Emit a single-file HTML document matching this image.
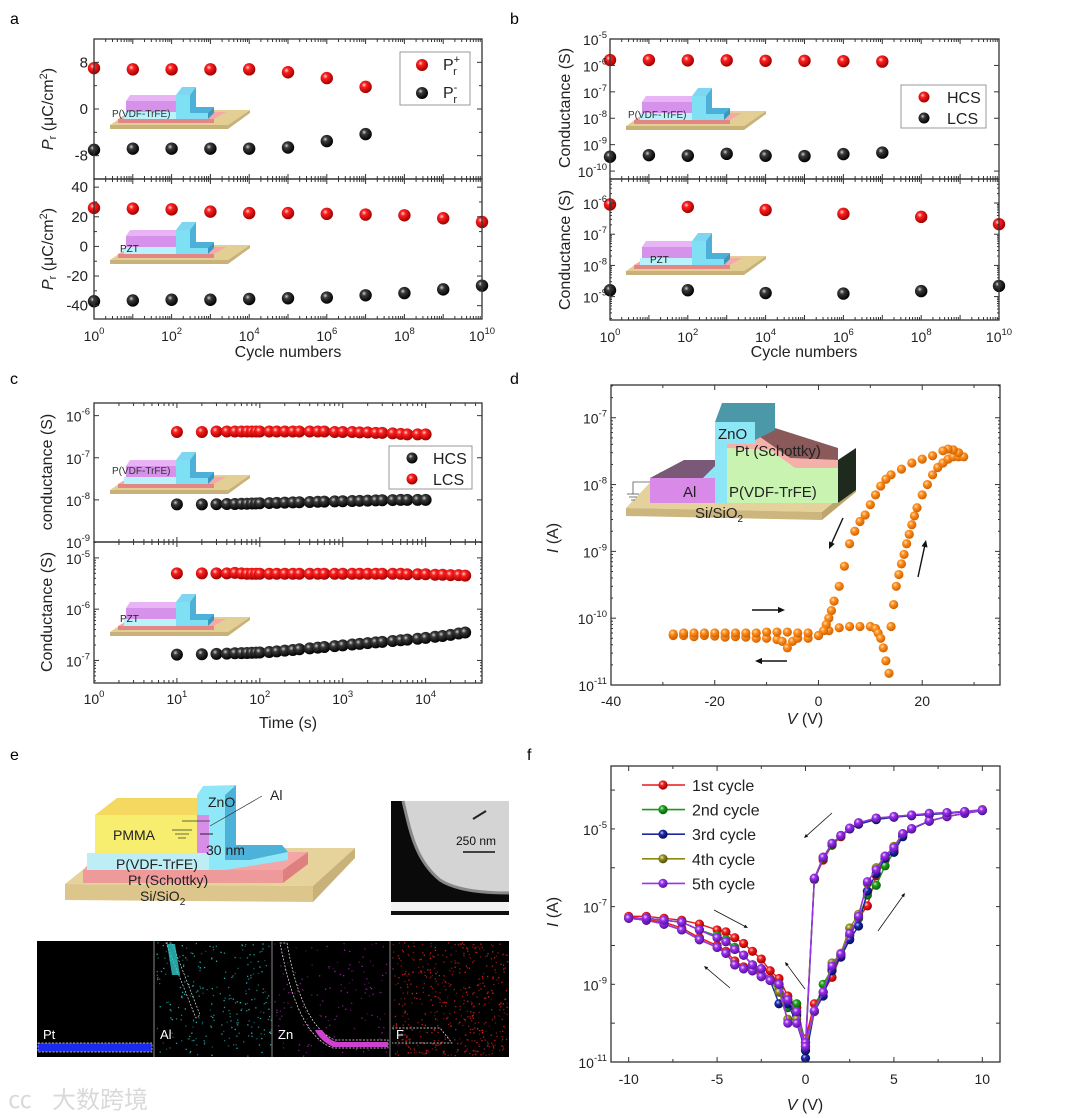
<!DOCTYPE html>
<html><head><meta charset="utf-8">
<style>
html,body{margin:0;padding:0;background:#fff;}
svg{display:block;font-family:"Liberation Sans","Noto Sans CJK SC",sans-serif;}
</style></head>
<body>
<svg id="fig" width="1080" height="1118" viewBox="0 0 1080 1118" xmlns="http://www.w3.org/2000/svg">
<defs>
<radialGradient id="gR" cx="38%" cy="35%" r="65%"><stop offset="0" stop-color="#ffd8d8"/><stop offset="0.3" stop-color="#ff2020"/><stop offset="1" stop-color="#a00000"/></radialGradient>
<radialGradient id="gK" cx="38%" cy="35%" r="65%"><stop offset="0" stop-color="#d0d0d0"/><stop offset="0.3" stop-color="#3a3a3a"/><stop offset="1" stop-color="#000"/></radialGradient>
<radialGradient id="gO" cx="38%" cy="35%" r="65%"><stop offset="0" stop-color="#ffe0b0"/><stop offset="0.35" stop-color="#ff9020"/><stop offset="1" stop-color="#d06000"/></radialGradient>
<radialGradient id="gf0" cx="38%" cy="35%" r="65%"><stop offset="0" stop-color="#ffd0d0"/><stop offset="0.35" stop-color="#f02020"/><stop offset="1" stop-color="#a00000"/></radialGradient>
<radialGradient id="gf1" cx="38%" cy="35%" r="65%"><stop offset="0" stop-color="#c8f0c8"/><stop offset="0.35" stop-color="#20a020"/><stop offset="1" stop-color="#0a600a"/></radialGradient>
<radialGradient id="gf2" cx="38%" cy="35%" r="65%"><stop offset="0" stop-color="#c8c8ff"/><stop offset="0.35" stop-color="#1a2aa8"/><stop offset="1" stop-color="#0a0a60"/></radialGradient>
<radialGradient id="gf3" cx="38%" cy="35%" r="65%"><stop offset="0" stop-color="#f0f0c0"/><stop offset="0.35" stop-color="#909020"/><stop offset="1" stop-color="#50500a"/></radialGradient>
<radialGradient id="gf4" cx="38%" cy="35%" r="65%"><stop offset="0" stop-color="#f0d8ff"/><stop offset="0.35" stop-color="#9a30f0"/><stop offset="1" stop-color="#5a10a0"/></radialGradient>
<g id="devSmall">
  <polygon points="0,42 118,42 140,27 22,27" fill="#e3cf94"/>
  <polygon points="0,42 118,42 140,27 140,30 118,46 0,46" fill="#c8b27a"/>
  <polygon points="8,36 104,36 116,29 20,29" fill="#f4a8a8"/>
  <rect x="8" y="36" width="96" height="4" fill="#e38686"/>
  <rect x="14" y="29" width="66" height="7" fill="#b8f2fb"/>
  <rect x="16" y="18" width="52" height="11" fill="#d691ea"/>
  <polygon points="16,18 68,18 72,12 20,12" fill="#e8b4f6"/>
  <polygon points="66,12 80,12 86,4 72,4" fill="#7fd6f0"/>
  <polygon points="66,12 80,12 80,30 98,30 98,36 66,36" fill="#7fe0f4"/>
  <polygon points="80,12 86,4 86,24 104,24 98,30 80,30" fill="#4cb0d8"/>
  <polygon points="98,30 104,24 104,30 98,36" fill="#3a98c0"/>
</g>
</defs>
<rect x="0" y="0" width="1080" height="1118" fill="#fff"/>

<text x="10" y="24" font-size="16">a</text>
<text x="510" y="24" font-size="16">b</text>
<text x="10" y="384" font-size="16">c</text>
<text x="510" y="384" font-size="16">d</text>
<text x="10" y="760" font-size="16">e</text>
<text x="527" y="760" font-size="16">f</text>

<g><use href="#devSmall" x="110" y="83"/><text x="112" y="117" font-size="10" fill="#333">P(VDF-TrFE)</text></g>
<g><use href="#devSmall" x="110" y="218"/><text x="120" y="252" font-size="10" fill="#222">PZT</text></g>
<g><use href="#devSmall" x="626" y="84"/><text x="628" y="118" font-size="10" fill="#333">P(VDF-TrFE)</text></g>
<g><use href="#devSmall" x="626" y="229"/><text x="650" y="263" font-size="10" fill="#222">PZT</text></g>
<g><use href="#devSmall" x="110" y="448"/><text x="112" y="474" font-size="10" fill="#333">P(VDF-TrFE)</text></g>
<g><use href="#devSmall" x="110" y="590"/><text x="120" y="622" font-size="10" fill="#222">PZT</text></g>

<g>
  <polygon points="626,508 822,512 856,484 840,470 660,472" fill="#e5d29a"/>
  <polygon points="626,508 822,512 822,520 626,516" fill="#cdb67e"/>
  <polygon points="822,512 856,484 856,492 822,520" fill="#bca66c"/>
  <polygon points="650,478 727,478 727,460 684,460" fill="#7a5878"/>
  <rect x="650" y="478" width="77" height="25" fill="#d98ae9"/>
  <polygon points="727,448 770,450 795,468 838,468 838,503 727,503" fill="#c9f3b0"/>
  <polygon points="727,437 760,437 790,458 838,460 838,468 795,468 770,450 727,448" fill="#f6b0aa"/>
  <polygon points="760,437 775,428 838,448 838,460 790,458" fill="#8a5a5a"/>
  <polygon points="838,460 856,448 856,490 838,503" fill="#1e2a1e"/>
  <rect x="715" y="422" width="40" height="22" fill="#8de6f5"/>
  <rect x="715" y="444" width="12" height="59" fill="#8de6f5"/>
  <polygon points="703,478 715,466 715,478" fill="#8de6f5"/>
  <polygon points="715,422 722,403 775,403 775,430 755,440 755,422" fill="#4a98a8"/>
  <polyline points="650,482 633,482 633,494" fill="none" stroke="#555" stroke-width="0.8"/>
  <line x1="627" y1="494" x2="639" y2="494" stroke="#555" stroke-width="0.8"/>
  <line x1="629" y1="497" x2="637" y2="497" stroke="#555" stroke-width="0.8"/>
  <line x1="631" y1="500" x2="635" y2="500" stroke="#555" stroke-width="0.8"/>
  <text x="718" y="439" font-size="15" fill="#222">ZnO</text>
  <text x="735" y="456" font-size="15" fill="#222">Pt (Schottky)</text>
  <text x="683" y="497" font-size="15" fill="#222">Al</text>
  <text x="729" y="497" font-size="15" fill="#222">P(VDF-TrFE)</text>
  <text x="695" y="518" font-size="15" fill="#222">Si/SiO<tspan font-size="10" dy="4">2</tspan></text>
</g>

<g>
  <polygon points="65,884 313,886 355,848 110,848" fill="#e6d39c"/>
  <polygon points="65,884 313,886 313,902 65,900" fill="#dcc68c"/>
  <polygon points="313,886 355,848 355,858 313,902" fill="#c9b27a"/>
  <polygon points="83,870 283,870 308,852 100,852" fill="#f4a6a6"/>
  <rect x="83" y="870" width="200" height="13" fill="#ee9a9a"/>
  <polygon points="283,870 308,852 308,864 283,883" fill="#e07f7f"/>
  <rect x="87" y="853" width="136" height="17" fill="#bdeef6"/>
  <polygon points="95,815 117,798 207,798 207,815" fill="#f5d860"/>
  <rect x="95" y="815" width="112" height="38" fill="#f7ee70"/>
  <rect x="197" y="815" width="12" height="38" fill="#d88ee8"/>
  <polygon points="197,795 203,786 236,785 225,795" fill="#8ee8f8"/>
  <rect x="209" y="795" width="16" height="75" fill="#8ee8f8"/>
  <rect x="197" y="795" width="28" height="20" fill="#8ee8f8"/>
  <polygon points="225,795 236,785 236,845 282,845 288,852 250,860 225,860" fill="#4cb2da"/>
  <polygon points="225,860 250,860 288,852 288,860 225,870" fill="#8ee8f8"/>
  <line x1="182" y1="821" x2="210" y2="821" stroke="#333" stroke-width="0.7"/>
  <line x1="172" y1="830" x2="192" y2="830" stroke="#333" stroke-width="0.7"/>
  <line x1="175" y1="834" x2="189" y2="834" stroke="#333" stroke-width="0.7"/>
  <line x1="178" y1="838" x2="186" y2="838" stroke="#333" stroke-width="0.7"/>
  <line x1="210" y1="826" x2="262" y2="796" stroke="#333" stroke-width="0.7"/>
  <line x1="200" y1="834" x2="213" y2="834" stroke="#222" stroke-width="1"/>
  <text x="208" y="807" font-size="14" fill="#222">ZnO</text>
  <text x="270" y="800" font-size="14" fill="#222">Al</text>
  <text x="113" y="840" font-size="14" fill="#222">PMMA</text>
  <text x="206" y="855" font-size="14" fill="#222">30 nm</text>
  <text x="116" y="869" font-size="14" fill="#222">P(VDF-TrFE)</text>
  <text x="128" y="885" font-size="14" fill="#222">Pt (Schottky)</text>
  <text x="140" y="901" font-size="14" fill="#222">Si/SiO<tspan font-size="10" dy="4">2</tspan></text>
</g>

<g>
  <rect x="391" y="801" width="118" height="114" fill="#d4d4d4"/>
  <path d="M391,801 L403,801 C410,830 415,860 440,880 C455,890 480,893 509,893 L509,902 L391,902 Z" fill="#0a0a0a"/>
  <path d="M403,801 C410,830 415,860 440,880 C455,890 480,893 509,893" fill="none" stroke="#888" stroke-width="3"/>
  <rect x="391" y="902" width="118" height="9" fill="#f2f2f2"/>
  <rect x="391" y="911" width="118" height="4" fill="#111"/>
  <line x1="473" y1="819" x2="486" y2="811" stroke="#222" stroke-width="2"/>
  <line x1="463" y1="852" x2="495" y2="852" stroke="#111" stroke-width="1.5"/>
  <text x="456" y="845" font-size="12" fill="#111">250 nm</text>
</g>

<g id="eds">
  <rect x="37" y="941" width="472" height="116" fill="#000"/>
  <rect x="38" y="1043" width="114" height="9" fill="#1a2aee"/>
  <line x1="154" y1="941" x2="154" y2="1057" stroke="#888" stroke-width="1"/>
  <line x1="272" y1="941" x2="272" y2="1057" stroke="#888" stroke-width="1"/>
  <line x1="390" y1="941" x2="390" y2="1057" stroke="#888" stroke-width="1"/>
</g>
<g>
  <rect x="38" y="1043" width="114" height="9" fill="none" stroke="#ddd" stroke-width="0.7" stroke-dasharray="2,1.5"/>
  <path d="M166,943 L172,943 L200,1015 L196,1018 Z" fill="none" stroke="#ddd" stroke-width="0.7" stroke-dasharray="2,1.5"/>
  <path d="M167,944 L175,944 L180,975 L172,975 Z" fill="#30c8c8" opacity="0.8"/>
  <path d="M287,943 C295,990 310,1030 335,1040 L388,1040 L388,1048 L333,1048 C305,1038 290,995 280,943 Z" fill="none" stroke="#eee" stroke-width="0.7" stroke-dasharray="2,1.5"/>
  <path d="M322,1030 C328,1038 332,1042 340,1042 L388,1042 L388,1047 L333,1047 C325,1043 318,1037 315,1030 Z" fill="#d040d0"/>
  <path d="M392,1028 L440,1028 L452,1043 L392,1043" fill="none" stroke="#eee" stroke-width="0.7" stroke-dasharray="2,1.5"/>
  <text x="43" y="1039" font-size="13" fill="#fff">Pt</text>
  <text x="160" y="1039" font-size="13" fill="#fff">Al</text>
  <text x="278" y="1039" font-size="13" fill="#fff">Zn</text>
  <text x="396" y="1039" font-size="13" fill="#fff">F</text>
</g>

<g opacity="0.55">
  <text x="8" y="1108" font-size="24" fill="#bbb" font-family="'Liberation Sans',sans-serif">㏄</text>
  <text x="52" y="1108" font-size="24" fill="#bbb" font-family="'Noto Sans CJK SC',sans-serif">大数跨境</text>
</g>
</svg>

<script>
const svg = document.getElementById('fig');
const NS = 'http://www.w3.org/2000/svg';
// ---------- DATA ----------
const aTopExp = [0,1,2,3,4,5,6,7];
const aTopPrPlus = [7.0,6.8,6.8,6.8,6.8,6.3,5.3,3.8];
const aTopPrMinus = [-7.0,-6.8,-6.8,-6.8,-6.8,-6.6,-5.5,-4.3];
const aBotExp = [0,1,2,3,4,5,6,7,8,9,10];
const aBotPrPlus = [26,25.5,25,23.5,22.5,22.5,22,21.5,21,19,16.5];
const aBotPrMinus = [-37,-36.5,-36,-36,-35.5,-35,-34.5,-33,-31.5,-29,-26.5];
const bTopExp = [0,1,2,3,4,5,6,7];
const bTopHCS = [1.6e-6,1.6e-6,1.55e-6,1.55e-6,1.5e-6,1.5e-6,1.45e-6,1.4e-6];
const bTopLCS = [3.5e-10,4e-10,3.8e-10,4.5e-10,3.8e-10,3.7e-10,4.4e-10,5e-10];
const bBotExp = [0,2,4,6,8,10];
const bBotHCS = [9e-7,7.5e-7,6e-7,4.5e-7,3.6e-7,2.1e-7];
const bBotLCS = [1.6e-9,1.6e-9,1.3e-9,1.25e-9,1.5e-9,2.2e-9];
const cTopTime = [10,20,30,40,50,60,70,80,90,100,130,160,200,250,300,400,500,600,800,1000,1300,1600,2000,2500,3000,4000,5000,6000,8000,10000];
const cTopLCS = [4.1e-7,4.1e-7,4.2e-7,4.2e-7,4.2e-7,4.2e-7,4.2e-7,4.2e-7,4.2e-7,4.2e-7,4.2e-7,4.2e-7,4.2e-7,4.2e-7,4.2e-7,4.2e-7,4.2e-7,4.2e-7,4.1e-7,4.1e-7,4.1e-7,4.0e-7,4.0e-7,3.9e-7,3.9e-7,3.8e-7,3.7e-7,3.6e-7,3.6e-7,3.6e-7];
const cTopHCS = [7.8e-9,7.8e-9,7.9e-9,8.0e-9,8.0e-9,8.1e-9,8.1e-9,8.2e-9,8.2e-9,8.3e-9,8.4e-9,8.5e-9,8.6e-9,8.7e-9,8.8e-9,8.9e-9,9.0e-9,9.1e-9,9.2e-9,9.3e-9,9.4e-9,9.5e-9,9.6e-9,9.7e-9,9.8e-9,9.9e-9,1.0e-8,1.0e-8,1.0e-8,1.0e-8];
const cBotTime = [10,20,30,40,50,60,70,80,90,100,130,160,200,250,300,400,500,600,800,1000,1300,1600,2000,2500,3000,4000,5000,6000,8000,10000,13000,16000,20000,25000,30000];
const cBotLCS = [5.0e-6,5.0e-6,5.0e-6,5.0e-6,5.1e-6,5.0e-6,4.9e-6,4.9e-6,4.9e-6,4.9e-6,4.9e-6,4.9e-6,4.9e-6,4.9e-6,4.9e-6,4.9e-6,4.9e-6,4.9e-6,4.9e-6,4.9e-6,4.9e-6,4.9e-6,4.9e-6,4.9e-6,4.9e-6,4.9e-6,4.9e-6,4.8e-6,4.8e-6,4.8e-6,4.7e-6,4.7e-6,4.6e-6,4.6e-6,4.5e-6];
const cBotHCS = [1.3e-7,1.32e-7,1.34e-7,1.36e-7,1.38e-7,1.39e-7,1.4e-7,1.41e-7,1.42e-7,1.43e-7,1.46e-7,1.5e-7,1.55e-7,1.6e-7,1.65e-7,1.72e-7,1.78e-7,1.83e-7,1.9e-7,1.97e-7,2.05e-7,2.1e-7,2.18e-7,2.25e-7,2.3e-7,2.4e-7,2.48e-7,2.55e-7,2.65e-7,2.75e-7,2.9e-7,3.0e-7,3.15e-7,3.35e-7,3.5e-7];
const dV = [-28,-26,-24,-22,-20,-18,-16,-14,-12,-10,-8,-7,-6,-5,-4,-2,0,2,4,6,8,10,11,11.5,12,12.5,13,13.6,14,14.5,15,15.5,16,16.5,17,17.5,18,18.5,19,20,21,22,23,24,25,26,27,28,
            27,26,25,24,22,20,18,16,14,13,12,11,10,9,8,7,6,5,4,3,2.5,2,1.5,1,0,-2,-4,-6,-8,-10,-12,-14,-16,-18,-20,-22,-24,-26,-28];
const dI = [5.5e-11,5.5e-11,5.3e-11,5.5e-11,5.4e-11,5.2e-11,5.3e-11,5.2e-11,5.0e-11,5.0e-11,4.8e-11,4.5e-11,3.6e-11,4.5e-11,5.0e-11,5.0e-11,5.5e-11,6.5e-11,7.2e-11,7.5e-11,7.5e-11,7.5e-11,7e-11,6e-11,5e-11,3.6e-11,2.3e-11,1.5e-11,7.5e-11,1.6e-10,3e-10,4.5e-10,6.5e-10,9e-10,1.3e-9,1.8e-9,2.5e-9,3.4e-9,4.5e-9,7e-9,1e-8,1.4e-8,1.8e-8,2.1e-8,2.4e-8,2.6e-8,2.6e-8,2.6e-8,
            3e-8,3.3e-8,3.4e-8,3.2e-8,2.7e-8,2.4e-8,2.1e-8,1.7e-8,1.4e-8,1.2e-8,9.5e-9,7e-9,5e-9,3.5e-9,2.8e-9,2e-9,1.3e-9,6e-10,3e-10,1.8e-10,1.3e-10,1e-10,8e-11,6.5e-11,5.5e-11,6e-11,6e-11,6.2e-11,6.2e-11,6.2e-11,6e-11,6e-11,6e-11,6e-11,6e-11,6e-11,6e-11,6e-11,5.8e-11];
const fV = [0,0.5,1,1.5,2,2.5,3,3.5,4,4.5,5,5.5,6,7,8,9,10, 9,8,7,6,5,4,3,2.5,2,1.5,1,0.5,0, -0.5,-1,-1.5,-2,-2.5,-3,-3.5,-4,-4.5,-5,-6,-7,-8,-9,-10, -9,-8,-7,-6,-5,-4.5,-4,-3.5,-3,-2.5,-2,-1.5,-1,-0.5,0];
const fLabels = ['1st cycle','2nd cycle','3rd cycle','4th cycle','5th cycle'];
const fLogI1 = [-10.4,-9.5,-9.2,-8.82,-8.25,-7.75,-7.3,-6.98,-6.2,-5.8,-5.55,-5.15,-5.0,-4.8,-4.68,-4.6,-4.52, -4.56,-4.6,-4.62,-4.65,-4.69,-4.74,-4.86,-5.0,-5.2,-5.42,-5.8,-6.3,-10.5, -9.6,-9.5,-9.0,-8.85,-8.75,-8.6,-8.55,-8.4,-8.15,-8.0,-7.8,-7.55,-7.4,-7.33,-7.25, -7.25,-7.3,-7.35,-7.45,-7.6,-7.65,-7.8,-7.95,-8.15,-8.35,-8.65,-8.85,-9.3,-9.6,-10.5];
const fLogI2 = [-10.5,-9.7,-9.0,-8.6,-8.25,-7.75,-7.3,-6.7,-6.45,-5.95,-5.6,-5.15,-5.0,-4.8,-4.68,-4.6,-4.52, -4.56,-4.6,-4.62,-4.65,-4.69,-4.74,-4.86,-5.0,-5.18,-5.4,-5.75,-6.3,-10.6, -9.5,-9.6,-9.1,-8.9,-8.8,-8.65,-8.6,-8.5,-8.2,-8.05,-7.85,-7.6,-7.45,-7.35,-7.3, -7.3,-7.35,-7.4,-7.6,-7.75,-7.85,-8.05,-8.25,-8.5,-8.6,-8.9,-9.05,-9.4,-9.75,-10.6];
const fLogI3 = [-10.9,-9.7,-9.3,-8.65,-8.3,-7.85,-7.5,-6.6,-6.15,-5.75,-5.6,-5.2,-5.0,-4.8,-4.68,-4.6,-4.53, -4.56,-4.6,-4.63,-4.66,-4.7,-4.76,-4.88,-5.0,-5.17,-5.38,-5.73,-6.28,-10.7, -10.0,-9.5,-9.5,-8.9,-8.8,-8.65,-8.6,-8.5,-8.2,-8.05,-7.85,-7.6,-7.45,-7.35,-7.3, -7.3,-7.35,-7.4,-7.6,-7.8,-7.9,-8.1,-8.25,-8.5,-8.6,-8.9,-9.2,-9.5,-9.8,-10.7];
const fLogI4 = [-10.6,-9.7,-9.2,-8.45,-8.2,-7.55,-7.2,-6.4,-6.0,-5.7,-5.45,-5.12,-4.99,-4.79,-4.68,-4.6,-4.5, -4.55,-4.58,-4.6,-4.64,-4.68,-4.72,-4.84,-4.98,-5.17,-5.37,-5.73,-6.27,-10.6, -9.9,-9.9,-9.2,-8.9,-8.8,-8.65,-8.6,-8.5,-8.2,-8.05,-7.85,-7.6,-7.45,-7.35,-7.3, -7.3,-7.35,-7.4,-7.6,-7.8,-7.9,-8.1,-8.25,-8.5,-8.6,-8.9,-9.0,-9.4,-9.7,-10.6];
const fLogI5 = [-10.5,-9.68,-9.2,-8.53,-8.22,-7.69,-7.25,-6.36,-6.05,-5.7,-5.48,-5.12,-4.99,-4.79,-4.68,-4.6,-4.52, -4.55,-4.58,-4.6,-4.64,-4.68,-4.72,-4.84,-4.98,-5.17,-5.37,-5.73,-6.27,-10.6, -10.0,-10.0,-9.0,-8.9,-8.8,-8.65,-8.6,-8.5,-8.2,-8.05,-7.85,-7.6,-7.45,-7.35,-7.3, -7.3,-7.35,-7.4,-7.6,-7.8,-7.9,-8.1,-8.25,-8.5,-8.6,-8.9,-9.0,-9.4,-9.7,-10.6];
const fSeries = [fLogI1,fLogI2,fLogI3,fLogI4,fLogI5];
const fLineColors = ['#e81818','#1a9a1a','#1a2aa0','#8a8a10','#9a30f0'];

// ---------- HELPERS ----------
const TL = 14;
function mk(tag, attrs, parent){
  const e = document.createElementNS(NS, tag);
  for (const k in attrs) e.setAttribute(k, attrs[k]);
  (parent || svg).appendChild(e);
  return e;
}
function lin(lo,hi,p0,p1){ return v => p0 + (v-lo)/(hi-lo)*(p1-p0); }
function lg(lo,hi,p0,p1){ return v => p0 + (Math.log10(v)-lo)/(hi-lo)*(p1-p0); }
function frame(x0,y0,x1,y1,name){
  const r = mk('rect',{x:x0,y:y0,width:x1-x0,height:y1-y0,fill:'none',stroke:'#333','stroke-width':1.3});
  
  
}
function tickLine(x1,y1,x2,y2){
  const t = mk('line',{x1:x1,y1:y1,x2:x2,y2:y2,stroke:'#333','stroke-width':1});
  
  
}
function yTicks(x0,x1,ys,len){ ys.forEach(y=>{ tickLine(x0,y,x0+len,y); tickLine(x1,y,x1-len,y); }); }
function xTicks(y0,y1,xs,len,top,bottom){ xs.forEach(x=>{ if(bottom) tickLine(x,y1,x,y1-len); if(top) tickLine(x,y0,x,y0+len); }); }
function txt(x,y,s,size,anchor,name){
  const t = mk('text',{x:x,y:y,'font-size':size,'text-anchor':anchor||'start',fill:'#222'});
  t.textContent = s;
  
  
  return t;
}
function pow10(x,y,exp,anchor,name){
  const t = mk('text',{x:x,y:y,'font-size':TL,'text-anchor':anchor,fill:'#222'});
  
  
  const a = mk('tspan',{},t); a.textContent='10';
  const b = mk('tspan',{'font-size':9.5,dy:-7},t); b.textContent=String(exp);
  return t;
}
function dot(cx,cy,r,grad,name){
  const c = mk('circle',{cx:cx,cy:cy,r:r,fill:'url(#'+grad+')'});
  
  
  return c;
}
function logMinor(lo,hi,sc){ const out=[]; for(let d=Math.floor(lo); d<hi; d++){ for(let m=2;m<=9;m++){ const v=Math.log10(m)+d; if(v>lo&&v<hi) out.push(sc(Math.pow(10,v))); } } return out; }
function logMajor(lo,hi,sc){ const out=[]; for(let d=Math.ceil(lo); d<=Math.floor(hi); d++) out.push(sc(Math.pow(10,d))); return out; }
function rotTitle(x,y,parts,name){
  const t = mk('text',{x:0,y:0,'font-size':16,'text-anchor':'middle',fill:'#222',transform:'translate('+x+','+y+') rotate(-90)'});
  
  
  parts.forEach(p=>{ const s=mk('tspan',p.a||{},t); s.textContent=p.t; });
}
function arrow(x1,y1,x2,y2,w,name){
  const g = mk('g',{});
  
  
  const ang=Math.atan2(y2-y1,x2-x1), L=w*5, W=w*2.2;
  mk('line',{x1:x1,y1:y1,x2:x2-Math.cos(ang)*L*0.6,y2:y2-Math.sin(ang)*L*0.6,stroke:'#111','stroke-width':w},g);
  const bx=x2-Math.cos(ang)*L, by=y2-Math.sin(ang)*L;
  mk('polygon',{points:[x2,y2,bx-Math.sin(ang)*W,by+Math.cos(ang)*W,bx+Math.sin(ang)*W,by-Math.cos(ang)*W].join(','),fill:'#111'},g);
}

// ---------- PANEL A ----------
(function(){
  const x0=94,x1=482, yT0=39,ySp=179,yB1=319;
  const X = lg(0,10,x0,x1);
  const YT = lin(-12,12,ySp,yT0);
  const YB = lin(-49,45.5,yB1,ySp);
  aTopExp.forEach((e,i)=>{ dot(X(Math.pow(10,e)),YT(aTopPrPlus[i]),6.2,'gR','a-top-pr-plus-point'); });
  aTopExp.forEach((e,i)=>{ dot(X(Math.pow(10,e)),YT(aTopPrMinus[i]),6.2,'gK','a-top-pr-minus-point'); });
  aBotExp.forEach((e,i)=>{ dot(X(Math.pow(10,e)),YB(aBotPrPlus[i]),6.2,'gR','a-bottom-pr-plus-point'); });
  aBotExp.forEach((e,i)=>{ dot(X(Math.pow(10,e)),YB(aBotPrMinus[i]),6.2,'gK','a-bottom-pr-minus-point'); });
  frame(x0,yT0,x1,ySp,'a-top-axes-frame'); frame(x0,ySp,x1,yB1,'a-bottom-axes-frame');
  yTicks(x0,x1,[-8,0,8].map(YT),5); yTicks(x0,x1,[-4,4].map(YT),3);
  yTicks(x0,x1,[-40,-20,0,20,40].map(YB),5); yTicks(x0,x1,[-30,-10,10,30].map(YB),3);
  const maj = logMajor(0,10,X), mnr = logMinor(0,10,X);
  xTicks(yT0,ySp,maj,5,true,true); xTicks(yT0,ySp,mnr,3,true,true);
  xTicks(ySp,yB1,maj,5,true,true); xTicks(ySp,yB1,mnr,3,true,true);
  [8,0,-8].forEach(v=>txt(x0-6,YT(v)+5,String(v),15,'end','a-top-y-tick-label'));
  [40,20,0,-20,-40].forEach(v=>txt(x0-6,YB(v)+5,String(v),15,'end','a-bottom-y-tick-label'));
  [0,2,4,6,8,10].forEach(e=>pow10(X(Math.pow(10,e)),341,e,'middle','a-x-tick-label'));
  txt(288,357,'Cycle numbers',16,'middle','a-x-axis-title');
  const pr=[{t:'P',a:{'font-style':'italic'}},{t:'r',a:{'font-size':11,dy:3}},{t:' (μC/cm',a:{dy:-3}},{t:'2',a:{'font-size':11,dy:-6}},{t:')',a:{dy:6}}];
  rotTitle(53,109,pr,'a-top-y-axis-title'); rotTitle(53,249,pr,'a-bottom-y-axis-title');
  const lb = mk('rect',{x:400,y:52,width:70,height:53,fill:'#fff',stroke:'#999','stroke-width':1});
   
  dot(422,65,6,'gR','a-legend-pr-plus-marker'); dot(422,93,6,'gK','a-legend-pr-minus-marker');
  const l1=txt(443,70,'P',16,'start','a-legend-pr-plus-label'); const s1=mk('tspan',{'font-size':11,dy:-7},l1); s1.textContent='+'; const s1b=mk('tspan',{'font-size':11,dx:-7,dy:12},l1); s1b.textContent='r';
  const l2=txt(443,98,'P',16,'start','a-legend-pr-minus-label'); const s2=mk('tspan',{'font-size':11,dy:-7},l2); s2.textContent='-'; const s2b=mk('tspan',{'font-size':11,dx:-4,dy:12},l2); s2b.textContent='r';
})();

// ---------- PANEL B ----------
(function(){
  const x0=610,x1=999, yT0=39,ySp=179,yB1=320;
  const X = lg(0,10,x0,x1);
  const YT = lg(-10.3,-5,ySp,yT0);
  const YB = lg(-9.75,-5.23,yB1,ySp);
  bTopExp.forEach((e,i)=>{ dot(X(Math.pow(10,e)),YT(bTopHCS[i]),6.2,'gR','b-top-hcs-point'); });
  bTopExp.forEach((e,i)=>{ dot(X(Math.pow(10,e)),YT(bTopLCS[i]),6.2,'gK','b-top-lcs-point'); });
  bBotExp.forEach((e,i)=>{ dot(X(Math.pow(10,e)),YB(bBotHCS[i]),6.2,'gR','b-bottom-hcs-point'); });
  bBotExp.forEach((e,i)=>{ dot(X(Math.pow(10,e)),YB(bBotLCS[i]),6.2,'gK','b-bottom-lcs-point'); });
  frame(x0,yT0,x1,ySp,'b-top-axes-frame'); frame(x0,ySp,x1,yB1,'b-bottom-axes-frame');
  yTicks(x0,x1,logMajor(-10.3,-5,YT),5); yTicks(x0,x1,logMajor(-9.75,-5.23,YB),5);
  yTicks(x0,x1,logMinor(-9.75,-5.23,YB),2);
  const maj = logMajor(0,10,X), mnr = logMinor(0,10,X);
  xTicks(yT0,ySp,maj,5,true,true); xTicks(yT0,ySp,mnr,3,true,true);
  xTicks(ySp,yB1,maj,5,true,true); xTicks(ySp,yB1,mnr,3,true,true);
  [-5,-6,-7,-8,-9,-10].forEach(e=>pow10(x0-3,YT(Math.pow(10,e))+6,e,'end','b-top-y-tick-label'));
  [-6,-7,-8,-9].forEach(e=>pow10(x0-3,YB(Math.pow(10,e))+6,e,'end','b-bottom-y-tick-label'));
  [0,2,4,6,8,10].forEach(e=>pow10(X(Math.pow(10,e)),342,e,'middle','b-x-tick-label'));
  txt(804,357,'Cycle numbers',16,'middle','b-x-axis-title');
  rotTitle(570,108,[{t:'Conductance (S)'}],'b-top-y-axis-title');
  rotTitle(570,250,[{t:'Conductance (S)'}],'b-bottom-y-axis-title');
  const lb = mk('rect',{x:901,y:85,width:85,height:43,fill:'#fff',stroke:'#999','stroke-width':1});
   
  dot(924,97,5.5,'gR','b-legend-hcs-marker'); dot(924,118,5.5,'gK','b-legend-lcs-marker');
  txt(947,103,'HCS',16,'start','b-legend-hcs-label'); txt(947,124,'LCS',16,'start','b-legend-lcs-label');
})();

// ---------- PANEL C ----------
(function(){
  const x0=94,x1=482, yT0=403,ySp=542,yB1=683;
  const X = lg(0,4.68,x0,x1);
  const YT = lg(-9,-5.7,ySp,yT0);
  const YB = lg(-7.44,-4.69,yB1,ySp);
  cTopTime.forEach((t,i)=>{ dot(X(t),YT(cTopLCS[i]),6,'gR','c-top-lcs-point'); });
  cTopTime.forEach((t,i)=>{ dot(X(t),YT(cTopHCS[i]),6,'gK','c-top-hcs-point'); });
  cBotTime.forEach((t,i)=>{ dot(X(t),YB(cBotLCS[i]),6,'gR','c-bottom-lcs-point'); });
  cBotTime.forEach((t,i)=>{ dot(X(t),YB(cBotHCS[i]),6,'gK','c-bottom-hcs-point'); });
  frame(x0,yT0,x1,ySp,'c-top-axes-frame'); frame(x0,ySp,x1,yB1,'c-bottom-axes-frame');
  yTicks(x0,x1,logMajor(-9,-5.7,YT),5); yTicks(x0,x1,logMajor(-7.44,-4.69,YB),5);
  yTicks(x0,x1,logMinor(-7.44,-4.69,YB),2);
  const maj = logMajor(0,4.68,X), mnr = logMinor(0,4.68,X);
  xTicks(yT0,ySp,maj,5,true,true); xTicks(yT0,ySp,mnr,3,true,true);
  xTicks(ySp,yB1,maj,5,true,true); xTicks(ySp,yB1,mnr,3,true,true);
  [-6,-7,-8,-9].forEach(e=>pow10(x0-4,YT(Math.pow(10,e))+6,e,'end','c-top-y-tick-label'));
  [-5,-6,-7].forEach(e=>pow10(x0-4,YB(Math.pow(10,e))+6,e,'end','c-bottom-y-tick-label'));
  [0,1,2,3,4].forEach(e=>pow10(X(Math.pow(10,e)),704,e,'middle','c-x-tick-label'));
  txt(288,728,'Time (s)',16,'middle','c-x-axis-title');
  rotTitle(52,472,[{t:'conductance (S)'}],'c-top-y-axis-title');
  rotTitle(52,612,[{t:'Conductance (S)'}],'c-bottom-y-axis-title');
  const lb = mk('rect',{x:389,y:446,width:83,height:43,fill:'#fff',stroke:'#999','stroke-width':1});
   
  dot(412,458,5.5,'gK','c-legend-hcs-marker'); dot(412,479,5.5,'gR','c-legend-lcs-marker');
  txt(433,464,'HCS',16,'start','c-legend-hcs-label'); txt(433,485,'LCS',16,'start','c-legend-lcs-label');
})();

// ---------- PANEL D ----------
(function(){
  const x0=611,x1=1000,y0=385,y1=685;
  const X = lin(-40,35,x0,x1);
  const Y = lg(-11,-6.51,y1,y0);
  dV.forEach((v,i)=>{ dot(X(v),Y(dI[i]),4.6,'gO','d-iv-point'); });
  frame(x0,y0,x1,y1,'d-axes-frame');
  const maj=logMajor(-11,-6.51,Y), mnr=logMinor(-11,-6.51,Y);
  yTicks(x0,x1,maj,5); yTicks(x0,x1,mnr,2);
  xTicks(y0,y1,[-40,-20,0,20].map(X),5,true,true); xTicks(y0,y1,[-30,-10,10,30].map(X),3,true,true);
  [-7,-8,-9,-10,-11].forEach(e=>pow10(x0-4,Y(Math.pow(10,e))+6,e,'end','d-y-tick-label'));
  [-40,-20,0,20].forEach(v=>txt(X(v),706,String(v),TL,'middle','d-x-tick-label'));
  const xt=txt(805,724,'',16,'middle','d-x-axis-title'); const a1=mk('tspan',{'font-style':'italic'},xt); a1.textContent='V'; const a2=mk('tspan',{},xt); a2.textContent=' (V)';
  rotTitle(558,538,[{t:'I',a:{'font-style':'italic'}},{t:' (A)'}],'d-y-axis-title');
  arrow(843,518,829,549,1.4,'d-arrow-down');
  arrow(918,577,926,540,1.4,'d-arrow-up');
  arrow(752,610,785,610,1.4,'d-arrow-right');
  arrow(787,661,755,661,1.4,'d-arrow-left');
})();

// ---------- PANEL F ----------
(function(){
  const x0=611,x1=1000,y0=766,y1=1062;
  const X = lin(-11,11,x0,x1);
  const Y = v => y1 + (v - (-11))/((-3.38)-(-11))*(y0-y1);
  fSeries.forEach((s,k)=>{
    const pl = mk('polyline',{points:fV.map((v,i)=>X(v)+','+Y(s[i])).join(' '),fill:'none',stroke:fLineColors[k],'stroke-width':1.4});
    
    
    fV.forEach((v,i)=>{ dot(X(v),Y(s[i]),4.6,'gf'+k,'f-cycle-point'); });
  });
  frame(x0,y0,x1,y1,'f-axes-frame');
  const majY=[-11,-10,-9,-8,-7,-6,-5,-4].map(Y);
  yTicks(x0,x1,majY,4);
  xTicks(y0,y1,[-10,-5,0,5,10].map(X),5,true,true); xTicks(y0,y1,[-7.5,-2.5,2.5,7.5].map(X),3,true,true);
  [-5,-7,-9,-11].forEach(e=>pow10(x0-4,Y(e)+6,e,'end','f-y-tick-label'));
  [-10,-5,0,5,10].forEach(v=>txt(X(v),1084,String(v),TL,'middle','f-x-tick-label'));
  const xt=txt(805,1110,'',16,'middle','f-x-axis-title'); const a1=mk('tspan',{'font-style':'italic'},xt); a1.textContent='V'; const a2=mk('tspan',{},xt); a2.textContent=' (V)';
  rotTitle(558,912,[{t:'I',a:{'font-style':'italic'}},{t:' (A)'}],'f-y-axis-title');
  fLabels.forEach((lab,k)=>{
    const y = 785 + k*24.6;
    const ln = mk('line',{x1:642,y1:y,x2:685,y2:y,stroke:fLineColors[k],'stroke-width':1.6});
    
    
    dot(663,y,4.6,'gf'+k,'f-legend-marker');
    txt(692,y+6,lab,16,'start','f-legend-label');
  });
  arrow(832,813,804,838,0.8,'f-arrow-upper');
  arrow(878,931,905,893,0.8,'f-arrow-rising');
  arrow(714,910,748,928,0.8,'f-arrow-neg-down');
  arrow(730,988,704,966,0.8,'f-arrow-neg-up');
  arrow(805,989,785,962,0.8,'f-arrow-center');
})();

// ---------- EDS noise texture ----------
(function(){
  const g = document.getElementById('eds');
  let s = 12345; const rnd = () => { s = (s*1103515245 + 12345) % 2147483648; return s/2147483648; };
  const panels = [{x:156,c:'#2fb8b8',n:260},{x:274,c:'#a020a8',n:160},{x:392,c:'#e02020',n:520}];
  panels.forEach(p=>{
    for(let i=0;i<p.n;i++){
      const x = p.x + rnd()*115, y = 942 + rnd()*114;
      const r = mk('rect',{x:x.toFixed(1),y:y.toFixed(1),width:1.3,height:1.3,fill:p.c,opacity:(0.4+rnd()*0.6).toFixed(2)},g);
      
      
    }
  });
})();
</script>
</body></html>
